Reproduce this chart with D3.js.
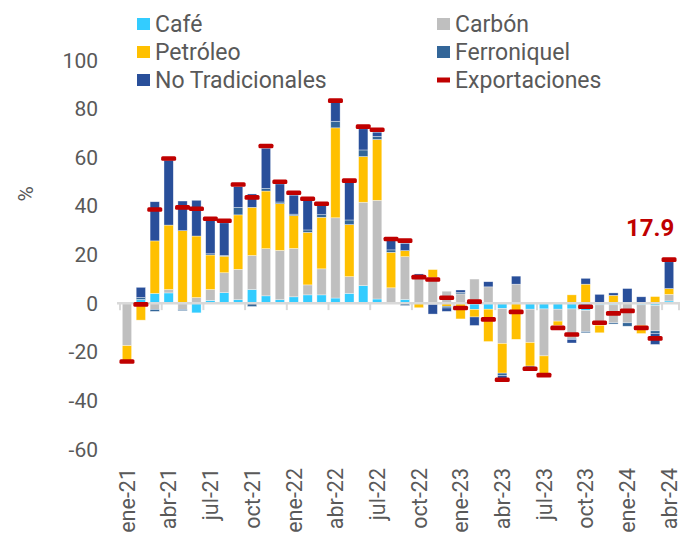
<!DOCTYPE html>
<html>
<head>
<meta charset="utf-8">
<script src="https://cdn.jsdelivr.net/npm/d3@7"></script>
<style>
  html, body { margin: 0; padding: 0; background: #fff; }
  svg { display: block; font-family: Roboto, "Noto Sans", sans-serif; }
</style>
</head>
<body>
<div id="chart"></div>
<script>
// meses (ene-21 .. abr-24)
const months = [
  "ene-21","feb-21","mar-21","abr-21","may-21","jun-21","jul-21","ago-21","sep-21","oct-21","nov-21","dic-21",
  "ene-22","feb-22","mar-22","abr-22","may-22","jun-22","jul-22","ago-22","sep-22","oct-22","nov-22","dic-22",
  "ene-23","feb-23","mar-23","abr-23","may-23","jun-23","jul-23","ago-23","sep-23","oct-23","nov-23","dic-23",
  "ene-24","feb-24","mar-24","abr-24"
];
const tickMonths = ["ene-21","abr-21","jul-21","oct-21","ene-22","abr-22","jul-22","oct-22","ene-23","abr-23","jul-23","oct-23","ene-24","abr-24"];
const yTicks = [100, 80, 60, 40, 20, 0, -20, -40, -60];

// contribuciones (pp)
const cafe = [0, 1.5, 4.0, 4.2, 0, -4.0, 1.1, 4.3, 1.4, 5.6, 3.0, 1.4,
  2.6, 3.4, 3.4, 2.1, 4.0, 7.2, 1.7, 0, 1.5, 0, 0, 0,
  0, -2.6, -2.5, -2.2, 0, -2.5, -2.4, -2.5, -2.4, -3.0, -0.7, -0.7,
  0, -0.7, -1.0, 0.9];
const carbon = [-17.5, 0, -2.6, 1.4, -2.6, 2.3, 4.5, 8.2, 12.5, 14.0, 19.4, 20.3,
  19.9, 4.1, 10.7, 33.0, 6.9, 34.3, 40.6, 6.3, 17.6, 11.1, 10.5, 4.9,
  3.8, 9.9, 6.7, -14.4, 7.8, -13.7, -19.3, -4.9, -12.1, -8.7, -8.4, -7.4,
  -8.1, -8.4, -10.4, 2.7];
const petroleo = [-6.3, -7.0, 21.6, 26.5, 29.8, 25.3, 14.2, 6.8, 22.4, 19.8, 23.7, 19.2,
  13.5, 21.6, 21.2, 37.0, 21.4, 18.8, 25.0, 14.6, 2.5, -1.9, 3.3, -1.3,
  -6.5, -3.1, -13.3, -12.2, -14.9, -9.7, -7.6, -1.8, 3.4, 7.8, -3.1, 3.2,
  0, -3.4, 2.7, 2.4];
const ferroniquel = [0, 0.8, -0.8, 0, -0.5, 0, 0.5, 0.3, 3.1, -1.4, 1.1, 0.7,
  0.6, 1.0, 1.1, 2.7, 1.9, 2.7, 1.3, 1.0, -1.0, 0, -0.5, -0.7,
  0.6, 0, 0, -1.0, 0, -1.0, 0, 0, -0.5, -0.5, 0, -0.5,
  -1.4, 0, -1.1, 0];
const noTradicionales = [0, 4.2, 16.1, 26.7, 12.2, 14.7, 13.9, 13.4, 8.5, 5.5, 16.5, 7.4,
  7.8, 12.1, 3.8, 7.8, 15.5, 8.7, 1.7, 3.8, 3.0, 0.9, -4.0, -1.4,
  1.0, -3.5, 2.1, -1.7, 3.3, 0, 0, 0, -1.4, 2.4, 3.6, 1.0,
  6.0, 2.6, -4.5, 11.0];
// variación anual total (%)
const exportaciones = [-24.0, -0.5, 38.5, 59.5, 39.4, 38.8, 34.7, 33.9, 48.8, 43.5, 64.6, 49.9,
  45.4, 42.9, 40.9, 83.3, 50.4, 72.6, 71.3, 26.4, 25.7, 10.7, 9.7, 2.2,
  -2.0, 0.6, -6.7, -31.5, -3.6, -27.0, -29.6, -10.2, -12.9, -1.5, -8.1, -4.2,
  -3.2, -10.2, -14.5, 17.9];

const seriesNames = ["Café", "Carbón", "Petróleo", "Ferroniquel", "No Tradicionales"];
const seriesValues = [cafe, carbon, petroleo, ferroniquel, noTradicionales];
const colors = {
  "Café": "#33ccff",
  "Carbón": "#bfbfbf",
  "Petróleo": "#ffc000",
  "Ferroniquel": "#336699",
  "No Tradicionales": "#294f9a",
  "Exportaciones": "#c00000"
};

const width = 693, height = 538;
const textColor = "#595959";

const svg = d3.select("#chart").append("svg")
  .attr("width", width)
  .attr("height", height);

const x = d3.scaleBand()
  .domain(months)
  .range([120, 676])
  .paddingInner(0.33)
  .paddingOuter(0.165);

const y = d3.scaleLinear()
  .domain([-60, 100])
  .range([449, 60]);

// tabla para d3.stack
const table = months.map((m, i) => {
  const row = { mes: m };
  seriesNames.forEach((s, k) => { row[s] = seriesValues[k][i]; });
  return row;
});

const stack = d3.stack()
  .keys(seriesNames)
  .offset(d3.stackOffsetDiverging);
const stacked = stack(table);

// eje y (solo etiquetas)
svg.append("g")
  .selectAll("text")
  .data(yTicks)
  .enter()
  .append("text")
  .attr("x", 98)
  .attr("y", (d) => y(d))
  .attr("dy", "0.36em")
  .attr("text-anchor", "end")
  .style("font-size", "21px")
  .style("fill", textColor)
  .text((d) => d);

svg.append("text")
  .attr("transform", `translate(33,${y(40) - 12}) rotate(-90)`)
  .attr("text-anchor", "middle")
  .style("font-size", "21px")
  .style("fill", textColor)
  .text("%");

// barras
svg.append("g")
  .selectAll("g")
  .data(stacked)
  .enter()
  .append("g")
  .attr("fill", (s) => colors[s.key])
  .selectAll("rect")
  .data((s) => s)
  .enter()
  .append("rect")
  .attr("x", (d) => x(d.data.mes))
  .attr("width", x.bandwidth())
  .attr("y", (d) => y(Math.max(d[0], d[1])))
  .attr("height", (d) => Math.abs(y(d[0]) - y(d[1])))
  .attr("stroke", "#fff")
  .attr("stroke-opacity", 0.6)
  .attr("stroke-width", 0.6);

// línea de cero y marcas
const x0 = x.range()[0] - 3, x1 = x.range()[1] + 4;
const axis = svg.append("g");
axis.append("line")
  .attr("x1", x0).attr("x2", x1)
  .attr("y1", y(0)).attr("y2", y(0))
  .attr("stroke", "#d9d9d9")
  .attr("stroke-width", 2.5);
axis.selectAll("line.tick")
  .data(months.filter((m, i) => i % 3 === 0))
  .enter()
  .append("line")
  .attr("class", "tick")
  .attr("x1", (m) => x(m) - x.step() * x.paddingInner() / 2)
  .attr("x2", (m) => x(m) - x.step() * x.paddingInner() / 2)
  .attr("y1", y(0))
  .attr("y2", y(0) + 7)
  .attr("stroke", "#d9d9d9")
  .attr("stroke-width", 2);
axis.append("line")
  .attr("x1", x1 - 1).attr("x2", x1 - 1)
  .attr("y1", y(0)).attr("y2", y(0) + 7)
  .attr("stroke", "#d9d9d9")
  .attr("stroke-width", 2);

// marcadores de exportaciones
svg.append("g")
  .selectAll("rect")
  .data(exportaciones)
  .enter()
  .append("rect")
  .attr("x", (d, i) => x(months[i]) + x.bandwidth() / 2 - 7.5)
  .attr("y", (d) => y(d) - 2.3)
  .attr("width", 15)
  .attr("height", 4.6)
  .attr("rx", 1.5)
  .attr("fill", colors["Exportaciones"]);

// etiqueta último dato
const last = months.length - 1;
svg.append("text")
  .attr("x", x(months[last]) + x.bandwidth() / 2 - 19)
  .attr("y", y(exportaciones[last]) - 24)
  .attr("text-anchor", "middle")
  .style("font-size", "24px")
  .style("font-weight", "bold")
  .style("fill", colors["Exportaciones"])
  .text(exportaciones[last].toFixed(1));

// etiquetas eje x
svg.append("g")
  .selectAll("text")
  .data(tickMonths)
  .enter()
  .append("text")
  .attr("transform", (m) => `translate(${x(m) + x.bandwidth() / 2},468) rotate(-90)`)
  .attr("dy", "0.36em")
  .attr("text-anchor", "end")
  .style("font-size", "21.5px")
  .style("fill", textColor)
  .text((m) => m);

// leyenda
const legendItems = [
  { name: "Café", col: 0, row: 0 },
  { name: "Carbón", col: 1, row: 0 },
  { name: "Petróleo", col: 0, row: 1 },
  { name: "Ferroniquel", col: 1, row: 1 },
  { name: "No Tradicionales", col: 0, row: 2 },
  { name: "Exportaciones", col: 1, row: 2 }
];
const legend = svg.append("g")
  .selectAll("g")
  .data(legendItems)
  .enter()
  .append("g")
  .attr("transform", (d) => `translate(${d.col ? 437 : 137},${24 + d.row * 28})`);

legend.append("rect")
  .attr("x", 0)
  .attr("y", (d) => (d.name === "Exportaciones" ? -2.5 : -6))
  .attr("width", 13)
  .attr("height", (d) => (d.name === "Exportaciones" ? 5 : 12))
  .attr("fill", (d) => colors[d.name]);

legend.append("text")
  .attr("x", 18)
  .attr("dy", "0.36em")
  .style("font-size", "23px")
  .style("fill", textColor)
  .text((d) => d.name);
</script>
</body>
</html>
